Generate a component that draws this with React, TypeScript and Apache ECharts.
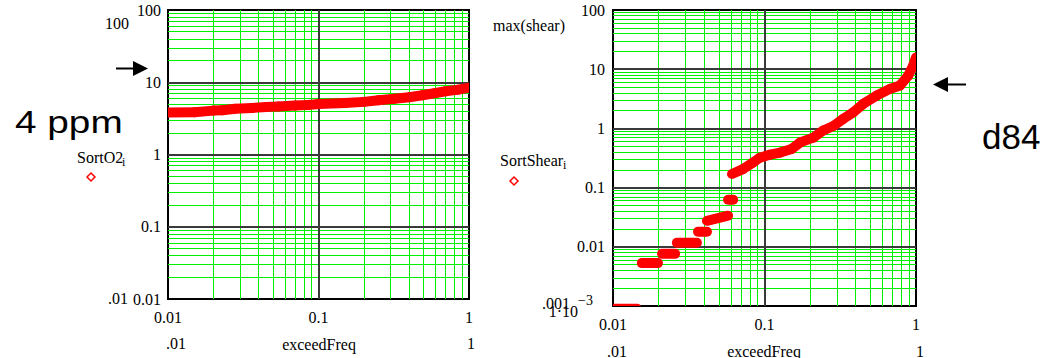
import { useEffect, useRef } from "react";
import * as echarts from "echarts";

// Axis ticks and their labels
const freqTicks = [0.01, 0.1, 1];
const freqTickLabels = ["0.01", "0.1", "1"];
const o2Ticks = [0.01, 0.1, 1, 10, 100];
const o2TickLabels = ["0.01", "0.1", "1", "10", "100"];
const shearTicks = [0.001, 0.01, 0.1, 1, 10, 100];
const shearTickLabels = ["{e|1·10}{p|−3}", "0.01", "0.1", "1", "10", "100"];

// Sorted dissolved oxygen against exceedance frequency
const o2Freq = [0.01, 0.015, 0.02, 0.023, 0.028, 0.036, 0.045, 0.054, 0.07, 0.085, 0.1, 0.15, 0.2, 0.25, 0.32, 0.4, 0.49, 0.6, 0.7, 0.85, 1.0];
const o2Values = [3.8, 3.85, 4.05, 4.1, 4.3, 4.4, 4.55, 4.6, 4.75, 4.85, 5.0, 5.15, 5.35, 5.65, 5.9, 6.2, 6.6, 7.1, 7.5, 7.9, 8.4];

// Sorted shear, continuous upper run
const shearFreq = [0.061, 0.072, 0.084, 0.093, 0.109, 0.127, 0.151, 0.172, 0.21, 0.244, 0.285, 0.331, 0.386, 0.449, 0.551, 0.673, 0.784, 0.889, 0.959, 1.0];
const shearValues = [0.17, 0.205, 0.265, 0.32, 0.36, 0.39, 0.45, 0.58, 0.7, 0.92, 1.1, 1.45, 1.87, 2.6, 3.6, 4.65, 5.3, 7.8, 11.5, 15.8];

// Sorted shear, quantised steps at low frequencies
const stepStartFreq = [0.0095, 0.0155, 0.0211, 0.0264, 0.0364, 0.0417, 0.0575];
const stepEndFreq = [0.0144, 0.0198, 0.0257, 0.0358, 0.0417, 0.0575, 0.0621];
const stepStartValue = [0.0009, 0.0053, 0.0076, 0.0117, 0.0179, 0.0275, 0.0624];
const stepEndValue = [0.0009, 0.0053, 0.0076, 0.0117, 0.0179, 0.0335, 0.0624];

// Decades spanned by each axis
const freqDecades = [0.01, 0.1];
const o2Decades = [0.01, 0.1, 1, 10];
const shearDecades = [0.001, 0.01, 0.1, 1, 10];
const minorSteps = [2, 3, 4, 5, 6, 7, 8, 9];

const SERIF = '"Liberation Serif", "Times New Roman", serif';
const SANS = '"Liberation Sans", Arial, sans-serif';
const RED = "#ff0000";
const GREEN = "#00f000";
const DARK = "#3a3a3a";

const pickLabel = (ticks: number[], labels: string[]) => (v: number) => {
  const lv = Math.log10(v);
  const i = ticks.findIndex((t) => Math.abs(Math.log10(t) - lv) < 1e-6);
  return i >= 0 ? labels[i] : "";
};

function gridLines(
  xs: number[],
  ys: number[],
  xr: [number, number],
  yr: [number, number]
) {
  const out: any[] = [];
  xs.forEach((x) => out.push([{ coord: [x, yr[0]] }, { coord: [x, yr[1]] }]));
  ys.forEach((y) => out.push([{ coord: [xr[0], y] }, { coord: [xr[1], y] }]));
  return out;
}

function minors(decades: number[]) {
  const out: number[] = [];
  decades.forEach((d) => minorSteps.forEach((k) => out.push(+(d * k).toPrecision(6))));
  return out;
}

function gridSeries(idx: number, lines: any[], color: string, width: number, z: number) {
  return {
    type: "line",
    xAxisIndex: idx,
    yAxisIndex: idx,
    data: [],
    silent: true,
    markLine: {
      silent: true,
      z,
      symbol: ["none", "none"],
      label: { show: false },
      lineStyle: { color, width, type: "solid", opacity: 1 },
      emphasis: { disabled: true },
      animation: false,
      data: lines,
    },
  };
}

// Thick plotted band: each item is one segment [x0, y0, x1, y1], clipped to the plot box
function bandSeries(idx: number, segments: number[][]) {
  return {
    type: "custom",
    xAxisIndex: idx,
    yAxisIndex: idx,
    clip: true,
    silent: true,
    z: 10,
    dimensions: ["x0", "y0", "x1", "y1"],
    encode: { x: [0, 2], y: [1, 3] },
    data: segments,
    renderItem: (_params: any, api: any) => {
      const a = api.coord([api.value(0), api.value(1)]);
      const b = api.coord([api.value(2), api.value(3)]);
      return {
        type: "line",
        shape: { x1: a[0], y1: a[1], x2: b[0], y2: b[1] },
        style: { stroke: RED, lineWidth: 10, lineCap: "round" },
      };
    },
  };
}

const toSegments = (xs: number[], ys: number[]) =>
  xs.slice(1).map((x, i) => [xs[i], ys[i], x, ys[i + 1]]);

function text(
  t: string,
  x: number,
  y: number,
  size: number,
  align: string,
  family = SERIF,
  extra: any = {}
) {
  return {
    type: "text",
    x,
    y,
    silent: true,
    z: 30,
    ...extra,
    style: {
      text: t,
      fontSize: size,
      fontFamily: family,
      fill: "#000",
      align,
      textAlign: align,
      verticalAlign: "middle",
      textVerticalAlign: "middle",
    },
  };
}

function diamond(cx: number, cy: number) {
  return {
    type: "polygon",
    silent: true,
    z: 30,
    shape: { points: [[cx, cy - 4], [cx + 4, cy], [cx, cy + 4], [cx - 4, cy]] },
    style: { fill: "#fff", stroke: RED, lineWidth: 1.5 },
  };
}

export default function App() {
  const ref = useRef<HTMLDivElement>(null);

  useEffect(() => {
    if (!ref.current) return;
    const chart = echarts.init(ref.current, null, { renderer: "svg" });

    const axisCommon = {
      type: "log",
      logBase: 10,
      axisLine: { show: false },
      axisTick: { show: false },
      splitLine: { show: false },
      minorSplitLine: { show: false },
    };
    const labelCommon = {
      fontFamily: SERIF,
      fontSize: 16,
      color: "#000",
      showMinLabel: true,
      showMaxLabel: true,
    };

    const stepSegments = stepStartFreq.map((f, i) => [
      f,
      stepStartValue[i],
      stepEndFreq[i],
      stepEndValue[i],
    ]);

    chart.setOption({
      animation: false,
      backgroundColor: "#fff",
      grid: [
        { left: 168, top: 10, width: 301, height: 289, show: true, borderColor: "#000", borderWidth: 2, backgroundColor: "transparent" },
        { left: 613, top: 10, width: 303, height: 296, show: true, borderColor: "#000", borderWidth: 2, backgroundColor: "transparent" },
      ],
      xAxis: [
        { ...axisCommon, gridIndex: 0, min: 0.01, max: 1, axisLabel: { ...labelCommon, margin: 10, formatter: pickLabel(freqTicks, freqTickLabels) } },
        { ...axisCommon, gridIndex: 1, min: 0.01, max: 1, axisLabel: { ...labelCommon, margin: 10, formatter: pickLabel(freqTicks, freqTickLabels) } },
      ],
      yAxis: [
        { ...axisCommon, gridIndex: 0, min: 0.01, max: 100, axisLabel: { ...labelCommon, margin: 7, formatter: pickLabel(o2Ticks, o2TickLabels) } },
        {
          ...axisCommon,
          gridIndex: 1,
          min: 0.001,
          max: 100,
          axisLabel: {
            ...labelCommon,
            margin: 8,
            formatter: pickLabel(shearTicks, shearTickLabels),
            rich: {
              e: { fontFamily: SERIF, fontSize: 16, color: "#000", lineHeight: 26, verticalAlign: "bottom" },
              p: { fontFamily: SERIF, fontSize: 14, color: "#000", lineHeight: 14, verticalAlign: "top", padding: [0, 12, 0, 0] },
            },
          },
        },
      ],
      series: [
        gridSeries(0, gridLines(minors(freqDecades), minors(o2Decades), [0.01, 1], [0.01, 100]), GREEN, 1, 3),
        gridSeries(0, gridLines([0.1], [0.1, 1, 10], [0.01, 1], [0.01, 100]), DARK, 2, 4),
        gridSeries(1, gridLines(minors(freqDecades), minors(shearDecades), [0.01, 1], [0.001, 100]), GREEN, 1, 3),
        gridSeries(1, gridLines([0.1], [0.01, 0.1, 1, 10], [0.01, 1], [0.001, 100]), DARK, 2, 4),
        bandSeries(0, toSegments(o2Freq, o2Values)),
        bandSeries(1, toSegments(shearFreq, shearValues)),
        bandSeries(1, stepSegments),
      ],
      graphic: [
        // left plot annotations
        text("100", 129, 23, 16, "right"),
        text(".01", 128, 298, 16, "right"),
        text("SortO2", 77, 157, 16, "left"),
        text("i", 122, 162, 12, "left"),
        diamond(91, 177),
        text(".01", 176, 343, 16, "center"),
        text("exceedFreq", 319, 344, 16, "center"),
        text("1", 471, 343, 16, "center"),
        text("4 ppm", 15, 122, 31, "left", SANS, { scaleX: 1.25 }),
        { type: "line", silent: true, z: 30, shape: { x1: 116, y1: 68.5, x2: 135, y2: 68.5 }, style: { stroke: "#000", lineWidth: 2 } },
        { type: "polygon", silent: true, z: 30, shape: { points: [[133, 61], [148, 68.5], [133, 76]] }, style: { fill: "#000" } },
        // right plot annotations
        text("max(shear)", 493, 25, 16, "left"),
        text("SortShear", 500, 160, 16, "left"),
        text("i", 563, 165, 12, "left"),
        diamond(514, 181),
        text(".001", 542, 303, 16, "left"),
        text(".01", 617, 351, 16, "center"),
        text("exceedFreq", 764, 351, 16, "center"),
        text("1", 920, 351, 16, "center"),
        { type: "line", silent: true, z: 30, shape: { x1: 946, y1: 84.5, x2: 966, y2: 84.5 }, style: { stroke: "#000", lineWidth: 2 } },
        { type: "polygon", silent: true, z: 30, shape: { points: [[933, 84.5], [948, 77], [948, 92]] }, style: { fill: "#000" } },
        text("d84", 982, 136, 35, "left", SANS),
      ],
    });

    return () => chart.dispose();
  }, []);

  return (
    <div
      ref={ref}
      style={{ position: "absolute", left: 0, top: 0, width: 1054, height: 358 }}
    />
  );
}
